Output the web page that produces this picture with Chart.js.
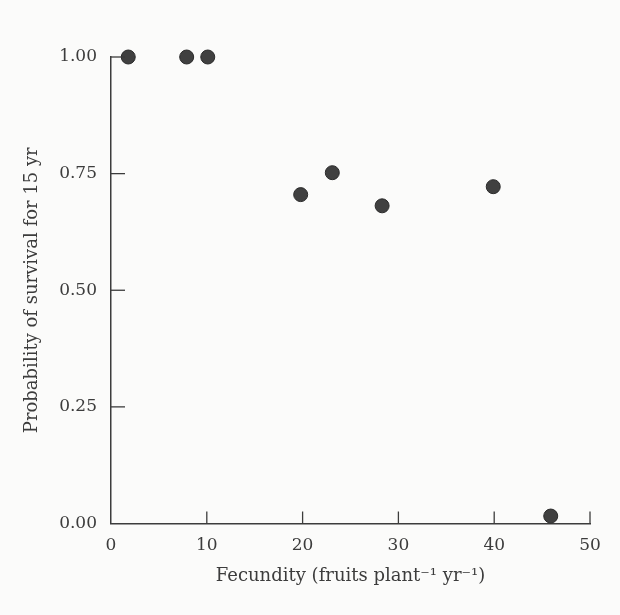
<!DOCTYPE html>
<html>
<head>
<meta charset="utf-8">
<script src="https://cdn.jsdelivr.net/npm/chart.js@4"></script>
<style>
  html, body { margin: 0; padding: 0; background: #fbfbfa; }
  #wrap { width: 620px; height: 615px; }
</style>
</head>
<body>
<div id="wrap"><canvas id="chart" width="620" height="615"></canvas></div>
<script>
// survival vs fecundity
const fecundity = [1.8, 7.9, 10.1, 19.8, 23.1, 28.3, 39.9, 45.9];
const survival = [1.00, 1.00, 1.00, 0.705, 0.752, 0.681, 0.722, 0.016];
const xTicks = [0, 10, 20, 30, 40, 50];
const yTicks = [0, 0.25, 0.50, 0.75, 1.00];

const ink = '#3c3c3c';
const tickFont = { family: 'DejaVu Serif', size: 17 };
const titleFont = { family: 'DejaVu Serif', size: 18 };

// short ticks pointing into the plot
const innerTicks = {
  id: 'innerTicks',
  afterDatasetsDraw(chart) {
    const ctx = chart.ctx;
    const x = chart.scales.x, y = chart.scales.y;
    ctx.save();
    ctx.strokeStyle = ink;
    ctx.lineWidth = 1.3;
    xTicks.forEach((v) => {
      if (v === 0) return;
      const px = x.getPixelForValue(v);
      ctx.beginPath();
      ctx.moveTo(px, y.bottom);
      ctx.lineTo(px, y.bottom - 12);
      ctx.stroke();
    });
    yTicks.forEach((v) => {
      if (v === 0) return;
      const py = y.getPixelForValue(v);
      ctx.beginPath();
      ctx.moveTo(x.left, py);
      ctx.lineTo(x.left + 14, py);
      ctx.stroke();
    });
    ctx.restore();
  }
};

const points = fecundity.map((f, i) => ({ x: f, y: survival[i] }));

new Chart(document.getElementById('chart').getContext('2d'), {
  type: 'scatter',
  data: {
    datasets: [{
      data: points,
      backgroundColor: '#404040',
      borderColor: '#2a2a2a',
      borderWidth: 1,
      pointRadius: 7,
      clip: false
    }]
  },
  options: {
    responsive: false,
    animation: false,
    layout: { padding: { top: 57, right: 30, left: 0, bottom: 20 } },
    plugins: { legend: { display: false }, tooltip: { enabled: false } },
    scales: {
      x: {
        type: 'linear',
        min: 0, max: 50,
        afterBuildTicks: (s) => { s.ticks = xTicks.map((v) => ({ value: v })); },
        afterFit: (s) => { s.height = 71.5; },
        grid: { display: false, drawTicks: false },
        border: { display: true, color: ink, width: 1.5 },
        ticks: { color: ink, font: tickFont, padding: 12, maxRotation: 0 },
        title: {
          display: true,
          text: 'Fecundity (fruits plant⁻¹ yr⁻¹)',
          color: ink,
          font: titleFont,
          padding: { top: 10, bottom: 8 }
        }
      },
      y: {
        type: 'linear',
        min: 0, max: 1,
        afterBuildTicks: (s) => { s.ticks = yTicks.map((v) => ({ value: v })); },
        afterFit: (s) => { s.width = 111; },
        grid: { display: false, drawTicks: false },
        border: { display: true, color: ink, width: 1.5 },
        ticks: { color: ink, font: tickFont, padding: 14, callback: (v) => v.toFixed(2) },
        title: {
          display: true,
          text: 'Probability of survival for 15 yr',
          color: ink,
          font: titleFont,
          padding: { top: 22 }
        }
      }
    }
  },
  plugins: [innerTicks]
});
</script>
</body>
</html>
